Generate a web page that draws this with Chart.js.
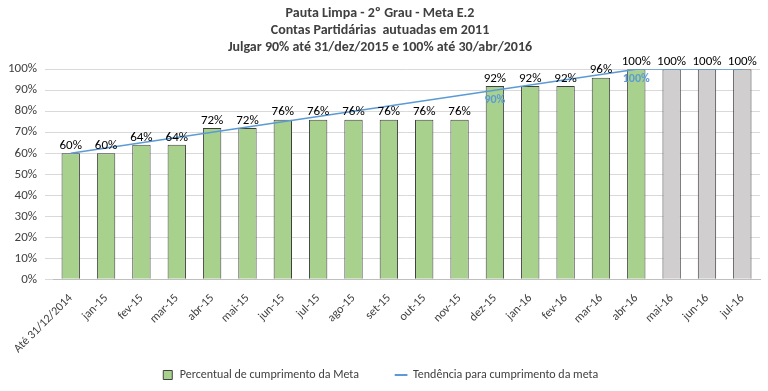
<!DOCTYPE html>
<html>
<head>
<meta charset="utf-8">
<script src="https://cdn.jsdelivr.net/npm/chart.js@4"></script>
<style>
  html, body { margin: 0; padding: 0; background: #fff; }
  #wrap { width: 768px; height: 391px; position: relative; }
</style>
</head>
<body>
<div id="wrap"><canvas id="chart"></canvas></div>
<script>
// Dados
const categorias = ['Até 31/12/2014', 'jan-15', 'fev-15', 'mar-15', 'abr-15', 'mai-15', 'jun-15', 'jul-15',
  'ago-15', 'set-15', 'out-15', 'nov-15', 'dez-15', 'jan-16', 'fev-16', 'mar-16', 'abr-16', 'mai-16', 'jun-16', 'jul-16'];
const percentual = [60, 60, 64, 64, 72, 72, 76, 76, 76, 76, 76, 76, 92, 92, 92, 96, 100, 100, 100, 100];
const tendencia = [60, 62.5, 65, 67.5, 70, 72.5, 75, 77.5, 80, 82.5, 85, 87.5, 90, 92.5, 95, 97.5, 100, 100, 100, 100];
const marcosTendencia = [12, 16]; // dez-15 (90%) e abr-16 (100%)
const titulo = ['Pauta Limpa - 2º Grau - Meta E.2', 'Contas Partidárias  autuadas em 2011', 'Julgar 90% até 31/dez/2015 e 100% até 30/abr/2016'];

const FONTE = 'Calibri, Carlito, Lato, sans-serif';
const VERDE = '#a9d18e';
const CINZA = '#d0cece';
const AZUL = '#5b9bd5';

// Rótulos de dados
const rotulos = {
  id: 'rotulos',
  afterDatasetsDraw(chart) {
    const ctx = chart.ctx;
    ctx.save();
    ctx.textAlign = 'center';
    // barras
    ctx.font = '13px ' + FONTE;
    ctx.fillStyle = '#000';
    ctx.textBaseline = 'bottom';
    chart.getDatasetMeta(0).data.forEach((bar, i) => {
      ctx.fillText(percentual[i] + '%', bar.x, bar.y - 1);
    });
    // tendência
    ctx.font = 'bold 12px ' + FONTE;
    ctx.fillStyle = AZUL;
    ctx.textBaseline = 'top';
    const pts = chart.getDatasetMeta(1).data;
    marcosTendencia.forEach(i => {
      ctx.fillText(tendencia[i] + '%', pts[i].x, pts[i].y + 4);
    });
    ctx.restore();
  }
};

new Chart(document.getElementById('chart'), {
  type: 'bar',
  data: {
    labels: categorias,
    datasets: [
      {
        label: 'Percentual de cumprimento da Meta',
        data: percentual,
        backgroundColor: percentual.map((v, i) => i >= 17 ? CINZA : VERDE),
        borderColor: '#404040',
        borderWidth: 1,
        barPercentage: 0.52,
        categoryPercentage: 1,
        pointStyle: 'rect',
        order: 2
      },
      {
        type: 'line',
        label: 'Tendência para cumprimento da meta',
        data: tendencia,
        borderColor: AZUL,
        backgroundColor: AZUL,
        borderWidth: 1.5,
        pointRadius: 0,
        tension: 0,
        pointStyle: 'line',
        order: 1
      }
    ]
  },
  options: {
    responsive: true,
    maintainAspectRatio: false,
    animation: false,
    layout: { padding: { left: 0, right: 8, top: 0, bottom: 0 } },
    plugins: {
      title: {
        display: true,
        text: titulo,
        color: '#404040',
        font: { family: FONTE, size: 14, weight: 'bold', lineHeight: 1.22 },
        padding: { top: 5, bottom: 13 }
      },
      legend: {
        position: 'bottom',
        labels: {
          usePointStyle: true,
          boxWidth: 16,
          boxHeight: 9,
          padding: 9,
          color: '#404040',
          font: { family: FONTE, size: 12 },
          sort: (a, b) => a.datasetIndex - b.datasetIndex,
          generateLabels(chart) {
            const items = Chart.defaults.plugins.legend.labels.generateLabels(chart);
            items.forEach(it => {
              if (it.datasetIndex === 0) {
                it.fillStyle = VERDE;
                it.strokeStyle = '#404040';
                it.lineWidth = 1;
                it.text += '\u00A0'.repeat(10);
              } else {
                it.strokeStyle = AZUL;
                it.lineWidth = 2;
              }
            });
            return items;
          }
        }
      },
      tooltip: { enabled: false }
    },
    scales: {
      x: {
        grid: { display: false },
        border: { color: '#bfbfbf' },
        ticks: {
          color: '#404040',
          padding: 4,
          font: { family: FONTE, size: 12 },
          maxRotation: 45,
          minRotation: 45,
          autoSkip: false
        }
      },
      y: {
        min: 0,
        max: 100,
        grid: { color: '#d9d9d9' },
        border: { display: false },
        ticks: {
          stepSize: 10,
          autoSkip: false,
          color: '#404040',
          padding: 8,
          font: { family: FONTE, size: 13 },
          callback: v => v + '%'
        }
      }
    }
  },
  plugins: [rotulos]
});
</script>
</body>
</html>
